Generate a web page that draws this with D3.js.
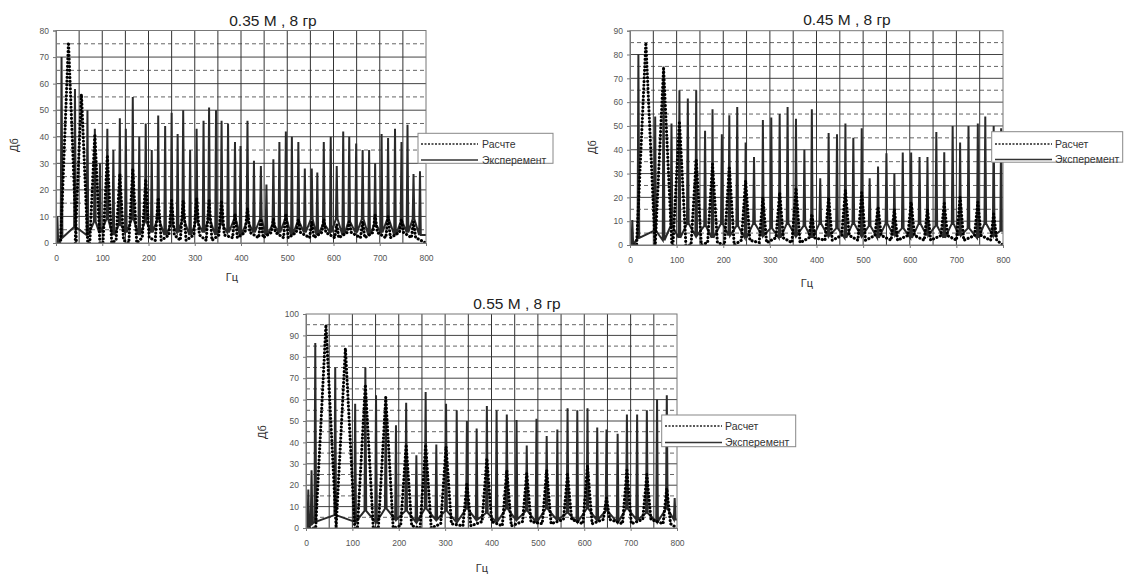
<!DOCTYPE html>
<html><head><meta charset="utf-8">
<script src="https://cdn.jsdelivr.net/npm/d3@7"></script>
<style>body{margin:0;background:#fff} svg{display:block;font-family:"Liberation Sans",Arial,sans-serif}</style>
</head><body><svg id="c" width="1127" height="574"></svg>
<script>
// ---------- data ----------
const titles = ["0.35 M , 8 гр", "0.45 M , 8 гр", "0.55 M , 8 гр"];
const legendLabels035 = ["Расчте", "Эксперемент"];
const legendLabels = ["Расчет", "Эксперемент"];
const xLabel = "Гц";
const yLabel = "Дб";
const xTicks = [0, 100, 200, 300, 400, 500, 600, 700, 800];
const yTicks035 = [0, 10, 20, 30, 40, 50, 60, 70, 80];
const yTicks045 = [0, 10, 20, 30, 40, 50, 60, 70, 80, 90];
const yTicks055 = [0, 10, 20, 30, 40, 50, 60, 70, 80, 90, 100];

// [Hz, peak dB, base dB]
const exp035 = [[3,10,0],[12,70,2],[41,58,6],[68,50,3],[84,43,8],[95,30,4],[111,43,9],[124,35,3],[138,47,7],[151,43,4],[166,55,9],[180,40,3],[194,45,8],[207,35,4],[221,48,9],[236,44,3],[250,49,7],[263,41,4],[275,50,9],[290,35,3],[304,43,8],[319,46,4],[331,51,9],[346,50,3],[358,46,7],[372,45,4],[387,38,9],[399,36.5,3],[414,46,8],[428,31,4],[443,29,9],[455,22,3],[470,31.5,7],[483,38,4],[497,42,9],[510,40,3],[524,38,8],[538,28,4],[553,28,9],[565,26.5,3],[579,38,7],[594,40,4],[607,29,9],[621,42,3],[634,40,8],[649,37.5,4],[663,35,9],[677,35,3],[690,30,7],[704,41,4],[718,39.5,9],[733,43,3],[747,38,8],[760,44.5,4],[773,26,9],[787,27,3]];
const calc035 = [[27,75.5,0],[55,56,0],[84,41,0],[111,33,0],[138,26,1],[166,28,0],[194,24,2],[221,17,1],[250,16,3],[275,16,1],[304,17,3],[331,16,1],[358,16,3],[387,11,2],[414,13,4],[443,9,2],[470,9,4],[497,11,2],[524,9,4],[553,8,2],[579,9,4],[607,7,2],[634,8,4],[663,8,2],[690,10.5,4],[718,10,2],[747,9,4],[773,8,2]];

const exp045 = [[5,10.5,0],[18,80,3],[54,54,6],[72,75,2],[89,51,8],[106,65,3],[124,61.5,9],[142,65,4],[161,48,8],[177,57,3],[197,46.5,9],[213,54.5,4],[230,58,8],[248,43,3],[266,37,9],[285,52.5,4],[303,53.5,7],[321,55,3],[338,58,9],[356,53,4],[374,40,8],[390,57,3],[408,28,9],[426,47,4],[444,46.5,7],[462,51,3],[479,45,9],[497,49,4],[514,28,8],[532,33,3],[550,38.5,9],[567,30,4],[585,38.8,7],[603,38.8,3],[621,37,9],[638,37,4],[657,47.5,8],[674,39,3],[692,50,9],[708,43,4],[726,50,7],[746,51,3],[762,54,9],[780,50,4],[796,49,6]];
const calc045 = [[34,85,0],[72,74,0],[106,52,0],[142,36,0],[177,34,1],[213,33,0],[248,27,2],[285,20,1],[321,22,3],[356,24,1],[390,13,3],[426,20,2],[462,23,4],[497,22,2],[532,16,4],[567,15,2],[603,18,4],[638,15,2],[674,17.5,4],[708,20,2],[746,18,4],[780,13,2]];

const exp055 = [[5,18,0],[12,27,2],[20,86.5,3],[63,75,6],[106,58,3],[128,75,8],[151,62,3],[172,61,9],[194,48,4],[216,58.5,8],[238,34,3],[258,63.5,9],[281,39,4],[302,58,8],[325,55,3],[347,50,9],[368,46.5,4],[390,57,7],[411,55,3],[433,53,9],[454,50.5,4],[476,38.5,8],[497,51,3],[519,43,9],[542,46,4],[564,56,7],[585,55,3],[607,56,9],[628,47,4],[648,46,8],[672,44,3],[692,53,9],[714,53,4],[735,55,7],[757,60,3],[778,62,9],[795,14,4]];
const calc055 = [[43,95,0],[85,84,0],[128,67,0],[172,61,0],[216,39,1],[258,39,0],[302,38,2],[347,21,1],[390,32.5,3],[433,27,1],[476,25.5,3],[519,27,2],[564,25,4],[607,29,2],[648,14,4],[692,27,2],[735,25,4],[778,18.5,2]];

// ---------- layout ----------
const panels = [
  {title: titles[0], exp: exp035, calc: calc035, yTicks: yTicks035, legend: legendLabels035,
   box: {l: 56, r: 426, t: 30.5, b: 243}, titleXY: [273, 26], xLab: [232, 281], yLab: [14, 145],
   leg: {x: 418, y: 133.3, w: 135, h: 30, r1: 144, r2: 160, lx0: 421, lx1: 478, tx: 482},
   expHw: 1.8, lobeA: 3.5, lobeK: 0.18},
  {title: titles[1], exp: exp045, calc: calc045, yTicks: yTicks045, legend: legendLabels,
   box: {l: 630, r: 1003, t: 30.7, b: 245}, titleXY: [847, 25], xLab: [807, 287], yLab: [592, 147],
   leg: {x: 991.7, y: 131.7, w: 131, h: 30.5, r1: 144, r2: 159.5, lx0: 995, lx1: 1052, tx: 1055},
   expHw: 1.8, lobeA: 4.5, lobeK: 0.18},
  {title: titles[2], exp: exp055, calc: calc055, yTicks: yTicks055, legend: legendLabels,
   box: {l: 306, r: 677, t: 314, b: 528}, titleXY: [517, 309], xLab: [482, 572], yLab: [262, 432],
   leg: {x: 661.7, y: 415, w: 134, h: 31.7, r1: 426, r2: 442.5, lx0: 665, lx1: 722, tx: 725},
   expHw: 1.8, lobeA: 5, lobeK: 0.18}
];

const svg = d3.select("#c");

panels.forEach((p, i) => {
  const g = svg.append("g");
  const x = d3.scaleLinear().domain([0, 800]).range([p.box.l, p.box.r]);
  const yMax = p.yTicks[p.yTicks.length - 1];
  const y = d3.scaleLinear().domain([0, yMax]).range([p.box.b, p.box.t]);

  const clipId = "clip" + i;
  g.append("clipPath").attr("id", clipId).append("rect")
    .attr("x", p.box.l).attr("y", p.box.t).attr("width", p.box.r - p.box.l).attr("height", p.box.b - p.box.t);

  // grid
  const halfSteps = d3.range(5, yMax, 10);
  g.selectAll(".hd").data(halfSteps).join("line")
    .attr("x1", p.box.l).attr("x2", p.box.r).attr("y1", d => y(d)).attr("y2", d => y(d))
    .attr("stroke", "#666").attr("stroke-width", 1).attr("stroke-dasharray", "4,3");
  g.selectAll(".hs").data(p.yTicks.slice(1, -1)).join("line")
    .attr("x1", p.box.l).attr("x2", p.box.r).attr("y1", d => y(d)).attr("y2", d => y(d))
    .attr("stroke", "#444").attr("stroke-width", 1);
  g.selectAll(".vg").data(d3.range(50, 800, 50)).join("line")
    .attr("x1", d => x(d)).attr("x2", d => x(d)).attr("y1", p.box.t).attr("y2", p.box.b)
    .attr("stroke", "#333").attr("stroke-width", 1);

  const line = d3.line().x(d => x(d[0])).y(d => y(d[1]));
  const expPts = [[0, 0]];
  p.exp.forEach(([f, v, b]) => { expPts.push([f - p.expHw, b], [f, v], [f + p.expHw, b]); });
  expPts.push([800, p.exp[p.exp.length - 1][2]]);
  const calcPts = [[0, 0]];
  p.calc.forEach(([f, v, b]) => {
    const hw = p.lobeA + p.lobeK * (v - b); // lobe width grows with lobe depth
    calcPts.push([f - hw, b], [f, v], [f + hw, b]);
  });
  calcPts.push([800, 0]);

  const plot = g.append("g").attr("clip-path", `url(#${clipId})`);
  plot.append("path").attr("d", line(expPts)).attr("fill", "none")
    .attr("stroke", "#2a2a2a").attr("stroke-width", 2).attr("stroke-linejoin", "miter");
  plot.append("path").attr("d", line(calcPts)).attr("fill", "none")
    .attr("stroke", "#000").attr("stroke-width", 3.1).attr("stroke-linecap", "round")
    .attr("stroke-dasharray", "0.1,3.6");

  // frame
  g.append("rect").attr("x", p.box.l).attr("y", p.box.t)
    .attr("width", p.box.r - p.box.l).attr("height", p.box.b - p.box.t)
    .attr("fill", "none").attr("stroke", "#777").attr("stroke-width", 1);

  // axes
  const xa = g.append("g").attr("transform", `translate(0,${p.box.b})`)
    .call(d3.axisBottom(x).tickValues(xTicks).tickSize(3).tickPadding(9).tickFormat(d3.format("d")));
  const ya = g.append("g").attr("transform", `translate(${p.box.l},0)`)
    .call(d3.axisLeft(y).tickValues(p.yTicks).tickSize(3).tickPadding(4).tickFormat(d3.format("d")));
  [xa, ya].forEach(a => {
    a.select(".domain").attr("stroke", "#777");
    a.selectAll(".tick line").attr("stroke", "#777");
    a.selectAll("text").attr("fill", "#555").attr("font-size", 8.5)
      .attr("font-family", "'Liberation Sans', Arial, sans-serif");
  });

  // titles
  g.append("text").attr("x", p.titleXY[0]).attr("y", p.titleXY[1]).attr("text-anchor", "middle")
    .attr("font-size", 15.5).attr("fill", "#222").text(p.title);
  g.append("text").attr("x", p.xLab[0]).attr("y", p.xLab[1]).attr("text-anchor", "middle")
    .attr("font-size", 11).attr("fill", "#333").text(xLabel);
  g.append("text").attr("transform", `translate(${p.yLab[0]},${p.yLab[1]}) rotate(-90)`)
    .attr("text-anchor", "middle").attr("dy", "0.35em")
    .attr("font-size", 11).attr("fill", "#333").text(yLabel);

  // legend
  const L = p.leg;
  g.append("rect").attr("x", L.x).attr("y", L.y).attr("width", L.w).attr("height", L.h)
    .attr("fill", "#fff").attr("stroke", "#888").attr("stroke-width", 1);
  g.append("line").attr("x1", L.lx0).attr("x2", L.lx1).attr("y1", L.r1).attr("y2", L.r1)
    .attr("stroke", "#222").attr("stroke-width", 1.3).attr("stroke-dasharray", "2,1.5");
  g.append("line").attr("x1", L.lx0).attr("x2", L.lx1).attr("y1", L.r2).attr("y2", L.r2)
    .attr("stroke", "#333").attr("stroke-width", 1.3);
  g.append("text").attr("x", L.tx).attr("y", L.r1).attr("dy", "0.35em")
    .attr("font-size", 10.5).attr("fill", "#333").text(p.legend[0]);
  g.append("text").attr("x", L.tx).attr("y", L.r2).attr("dy", "0.35em")
    .attr("font-size", 10.5).attr("fill", "#333").text(p.legend[1]);
});
</script>
</body></html>
